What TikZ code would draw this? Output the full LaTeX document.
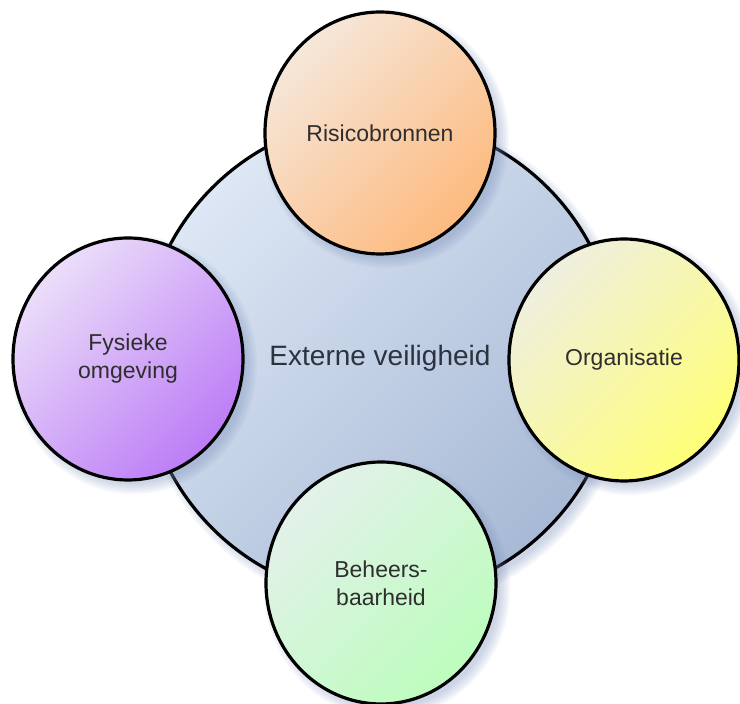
\documentclass[tikz,border=0pt]{standalone}
\usepackage{fontspec}
\setmainfont{Liberation Sans}
\usetikzlibrary{shapes.geometric,calc}
\definecolor{txtcol}{HTML}{2E2E2E}
\definecolor{bigtxt}{HTML}{2B3240}
\definecolor{shadowcol}{HTML}{7F93BD}
\definecolor{bigA}{HTML}{DDE7F5}
\definecolor{bigB}{HTML}{A7B9D5}
\definecolor{orA}{HTML}{F6E7DA}
\definecolor{orB}{HTML}{FDBA7E}
\definecolor{puA}{HTML}{EBDEF9}
\definecolor{puB}{HTML}{BC7CF6}
\definecolor{yeA}{HTML}{EFEFE0}
\definecolor{yeB}{HTML}{FFFF78}
\definecolor{grA}{HTML}{E3F1EA}
\definecolor{grB}{HTML}{BDFDBD}
\tikzset{
  ring/.style={ellipse, draw=black, line width=3.2pt, inner sep=0pt, align=center},
  bubble/.style={ring, minimum width=230pt, minimum height=242pt, text=txtcol,
    font=\fontsize{23}{28}\selectfont},
  halo/.style={fill=shadowcol, fill opacity=0.08, draw=none},
}
\begin{document}
\begin{tikzpicture}[x=1pt,y=1pt]
\useasboundingbox (0,0) rectangle (740,704);
\coordinate (cC) at (380,346);
\coordinate (cT) at (380,571);
\coordinate (cL) at (128,345);
\coordinate (cR) at (624,344);
\coordinate (cB) at (381,121);
% shadow of the central circle
\foreach \d in {-2,0,2,4,6,8}
  \fill[halo] ($(cC)+(6,-6)$) ellipse [x radius=238+\d, y radius=240+\d];
\node[ring, minimum width=476pt, minimum height=480pt, text=bigtxt,
  font=\fontsize{28}{34}\selectfont, top color=bigA, bottom color=bigB,
  shading angle=45] (big) at (cC) {Externe veiligheid};
% shadows of the outer circles
\foreach \c in {cT,cL,cR,cB}
  \foreach \d in {-2,0,2,4,6,8}
    \fill[halo] ($(\c)+(6,-6)$) ellipse [x radius=115+\d, y radius=121+\d];
\node[bubble, top color=orA, bottom color=orB, shading angle=45] (risico) at (cT) {Risicobronnen};
\node[bubble, top color=puA, bottom color=puB, shading angle=45] (fysiek) at (cL) {Fysieke\\omgeving};
\node[bubble, top color=yeA, bottom color=yeB, shading angle=45] (org) at (cR) {Organisatie};
\node[bubble, top color=grA, bottom color=grB, shading angle=45] (beheer) at (cB) {Beheers-\\baarheid};
\end{tikzpicture}
\end{document}
